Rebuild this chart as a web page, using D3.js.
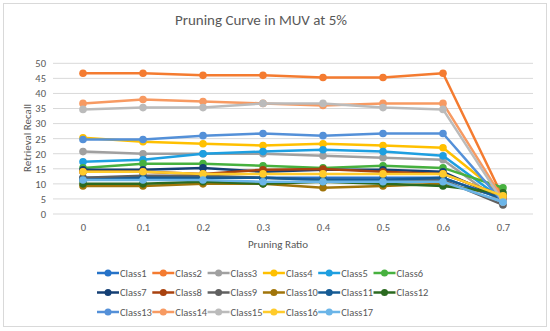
<!DOCTYPE html>
<html><head><meta charset="utf-8">
<script src="https://cdn.jsdelivr.net/npm/d3@7"></script>
<style>body{margin:0;background:#fff;}text{font-family:Calibri,"Carlito","Open Sans",sans-serif;}</style>
</head><body>
<svg id="c" width="550" height="331"></svg>
<script>
const ratios = ["0","0.1","0.2","0.3","0.4","0.5","0.6","0.7"];
const yTicks = [0,5,10,15,20,25,30,35,40,45,50];
const classNames = ["Class1","Class2","Class3","Class4","Class5","Class6","Class7","Class8","Class9","Class10","Class11","Class12","Class13","Class14","Class15","Class16","Class17"];
const colors = ["#2673C8","#F47B30","#A0A0A0","#FFC000","#1E9FE0","#47B13F","#143F74","#A8420F","#606060","#A0740A","#155B94","#2B6A20","#5490D8","#F79A62","#BBBBBB","#FFCB2B","#6BB5E8"];
const class1  = [12.0,12.0,12.0,12.0,12.0,12.0,12.0,5.0];
const class2  = [46.7,46.7,46.0,46.0,45.3,45.3,46.7,5.5];
const class3  = [20.7,20.0,20.0,20.0,19.3,18.7,18.0,3.5];
const class4  = [25.3,24.0,23.3,22.7,23.3,22.7,22.0,6.0];
const class5  = [17.3,18.0,20.0,20.7,21.3,20.7,19.3,4.7];
const class6  = [15.3,16.7,16.7,16.0,15.3,16.0,15.3,8.7];
const class7  = [14.7,14.7,15.3,14.0,14.7,14.7,14.0,5.0];
const class8  = [14.0,14.0,13.3,14.7,14.9,14.0,13.3,6.0];
const class9  = [12.0,12.7,12.7,12.0,11.3,11.3,11.3,3.0];
const class10 = [9.3,9.3,10.0,10.0,8.7,9.3,10.0,6.0];
const class11 = [11.3,12.0,12.0,12.0,11.3,11.3,12.0,5.0];
const class12 = [10.0,10.0,10.7,10.0,10.7,10.0,9.3,7.0];
const class13 = [24.7,24.7,26.0,26.7,26.0,26.7,26.7,4.0];
const class14 = [36.7,38.0,37.3,36.7,36.0,36.7,36.7,5.0];
const class15 = [34.7,35.3,35.3,36.7,36.7,35.3,34.7,4.0];
const class16 = [14.0,14.0,13.3,13.3,13.3,13.3,13.3,6.0];
const class17 = [11.3,11.3,11.3,10.7,10.7,10.7,10.7,4.0];
const seriesValues = [class1,class2,class3,class4,class5,class6,class7,class8,class9,class10,class11,class12,class13,class14,class15,class16,class17];

const svg = d3.select("#c");
const txt = "#595959";
svg.append("rect").attr("x",3.5).attr("y",3.5).attr("width",543).attr("height",323)
  .attr("fill","#fff").attr("stroke","#d9d9d9");

const x = d3.scalePoint().domain(ratios).range([83,503]);
const y = d3.scaleLinear().domain([0,50]).range([214,63.3]);

svg.append("g").selectAll("line").data(yTicks).join("line")
  .attr("x1",53).attr("x2",533).attr("y1",d=>y(d)).attr("y2",d=>y(d))
  .attr("stroke","#d9d9d9").attr("stroke-width",1);

const ya = svg.append("g").attr("transform","translate(46,0)")
  .call(d3.axisLeft(y).tickValues(yTicks).tickSize(0).tickPadding(0));
ya.select(".domain").remove();
ya.selectAll("text").attr("fill",txt).style("font-size","10.5px");

const xa = svg.append("g").attr("transform","translate(0,221)")
  .call(d3.axisBottom(x).tickSize(0).tickPadding(3));
xa.select(".domain").remove();
xa.selectAll("text").attr("fill",txt).style("font-size","10.5px");

svg.append("text").attr("x",261).attr("y",25).attr("text-anchor","middle")
  .attr("fill",txt).style("font-size","15px").text("Pruning Curve in MUV at 5%");
svg.append("text").attr("x",278).attr("y",248).attr("text-anchor","middle")
  .attr("fill",txt).style("font-size","11px").text("Pruning Ratio");
svg.append("text").attr("transform","translate(31,138) rotate(-90)").attr("text-anchor","middle")
  .attr("fill",txt).style("font-size","11px").text("Retrieval Recall");

const line = d3.line().x((d,i)=>x(ratios[i])).y(d=>y(d));
seriesValues.forEach((vals,k)=>{
  const g = svg.append("g");
  g.append("path").datum(vals).attr("d",line).attr("fill","none")
    .attr("stroke",colors[k]).attr("stroke-width",2.5).attr("stroke-linejoin","round");
  g.selectAll("circle").data(vals).join("circle")
    .attr("cx",(d,i)=>x(ratios[i])).attr("cy",d=>y(d)).attr("r",3.8).attr("fill",colors[k]);
});

const lg = svg.append("g");
classNames.forEach((name,k)=>{
  const col = k%6, row = Math.floor(k/6);
  const lx = 97 + col*55.3, ly = 273 + row*19.5;
  const g = lg.append("g").attr("transform",`translate(${lx},${ly})`);
  g.append("line").attr("x1",0).attr("x2",22).attr("stroke",colors[k]).attr("stroke-width",2.5);
  g.append("circle").attr("cx",11).attr("r",3.5).attr("fill",colors[k]);
  g.append("text").attr("x",23).attr("y",3.7).attr("fill",txt).style("font-size","10.5px").text(name);
});
</script>
</body></html>
